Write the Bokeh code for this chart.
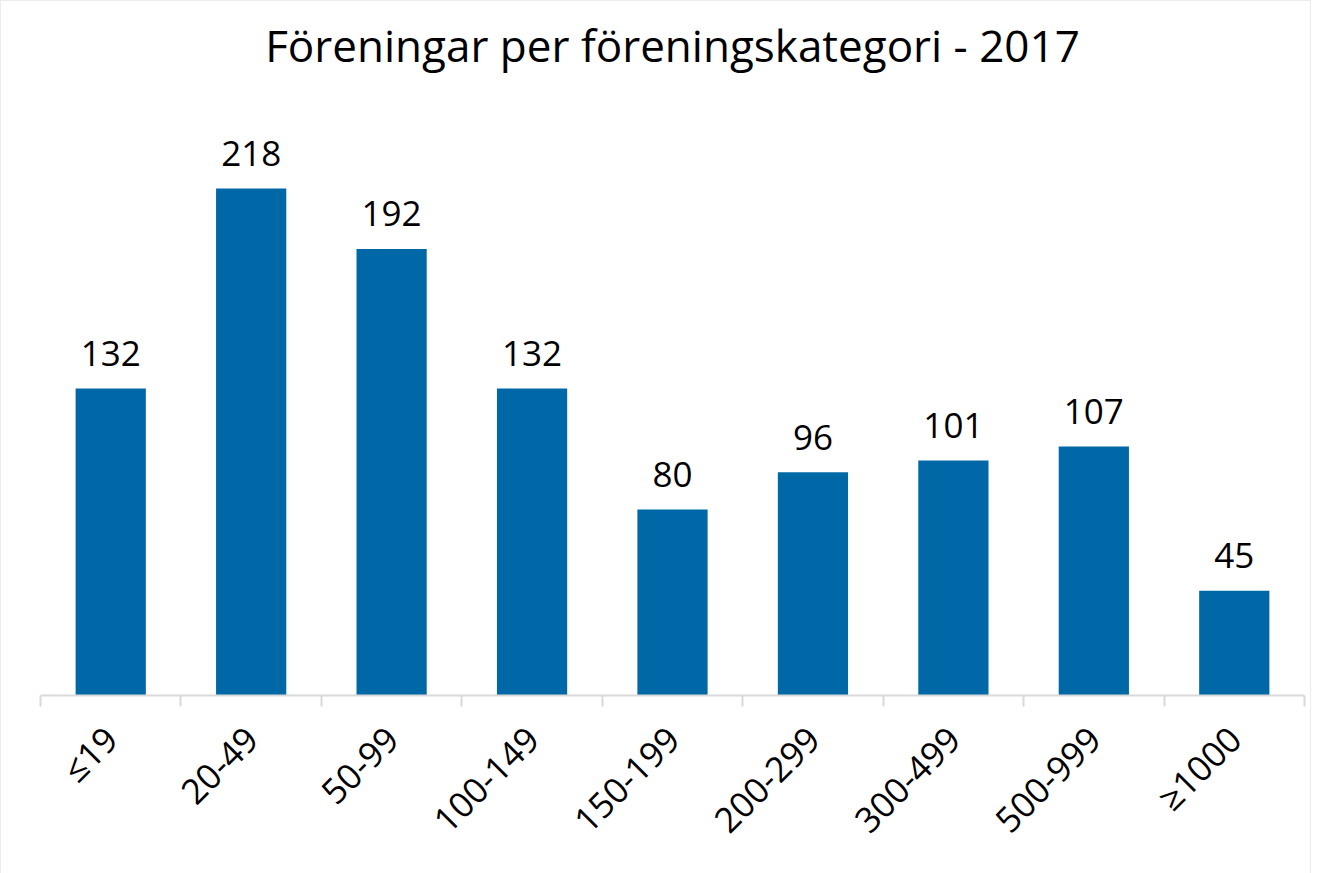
from bokeh.plotting import figure
from bokeh.models import Range1d, FixedTicker, ColumnDataSource
from bokeh.core.properties import value
from bokeh.embed import file_html
from bokeh.resources import INLINE
import math

categories = ["≤19", "20-49", "50-99", "100-149", "150-199", "200-299", "300-499", "500-999", "≥1000"]
counts = [132, 218, 192, 132, 80, 96, 101, 107, 45]
title_text = "Föreningar per föreningskategori - 2017"

FONT = "Open Sans"
BLUE = "#0068A6"
GRID = "#d9d9d9"

positions = list(range(1, len(categories) + 1))
src = ColumnDataSource(dict(x=positions, y=counts, label=[str(c) for c in counts]))

frame_h = 610
p = figure(
    frame_width=1264, frame_height=frame_h,
    x_range=Range1d(0.5, len(categories) + 0.5),
    y_range=Range1d(0, frame_h / 2.326),
    output_backend="svg", toolbar_location=None,
    min_border_left=39, min_border_right=6, min_border_top=0, min_border_bottom=180,
    title=title_text,
)
p.title.align = "center"
p.title.text_font = FONT
p.title.text_font_style = "normal"
p.title.text_font_size = "44px"
p.title.text_color = "#000000"
p.title.padding = 11
p.title.standoff = 0

p.vbar(x="x", top="y", width=0.5, source=src, fill_color=BLUE, line_color=None)
p.text(x="x", y="y", text="label", source=src, text_align="center", text_baseline="alphabetic",
       y_offset=-35, text_font=value(FONT), text_font_size="35px", text_color="#000000")

p.yaxis.visible = False
p.xgrid.visible = False
p.ygrid.visible = False
p.outline_line_color = None

ax = p.xaxis[0]
ax.ticker = FixedTicker(ticks=positions, minor_ticks=[i + 0.5 for i in range(0, len(categories) + 1)])
ax.major_label_overrides = {pos: cat for pos, cat in zip(positions, categories)}
ax.major_label_orientation = math.pi / 4
ax.major_label_text_font = FONT
ax.major_label_text_font_size = "35px"
ax.major_label_text_color = "#000000"
ax.major_label_standoff = 26
ax.major_tick_line_color = None
ax.minor_tick_line_color = GRID
ax.minor_tick_line_width = 2
ax.minor_tick_out = 11
ax.minor_tick_in = 0
ax.axis_line_color = GRID
ax.axis_line_width = 2

p.styles = {"border": "1px solid #ececec"}

open("out.html", "w").write(file_html(p, INLINE))
